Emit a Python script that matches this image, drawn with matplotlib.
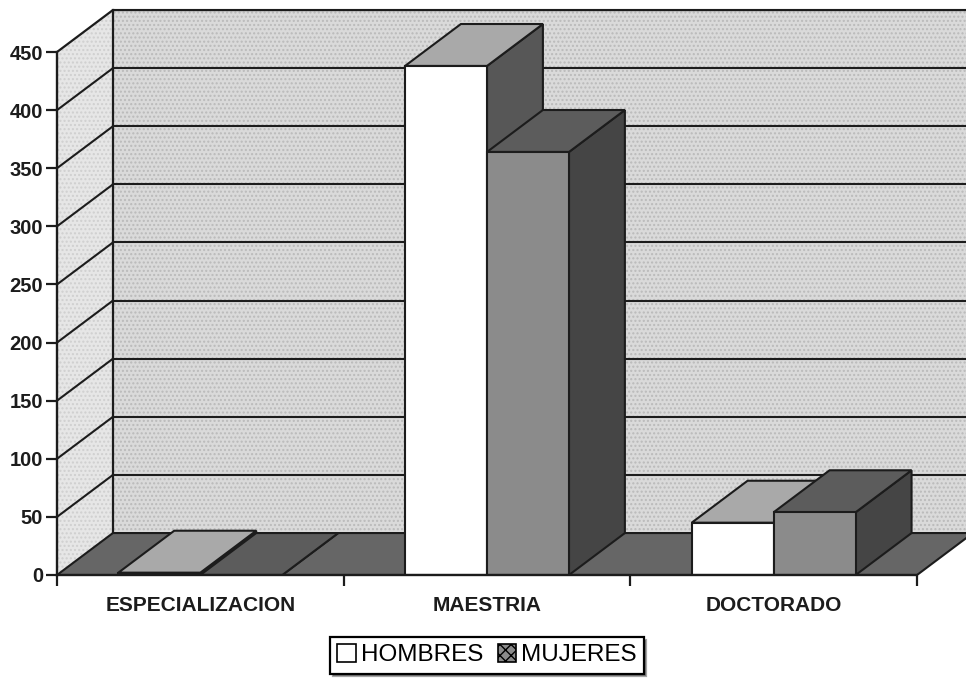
import numpy as np
import matplotlib.pyplot as plt
from matplotlib.patches import Polygon, Patch

plt.rcParams['font.family'] = ['Liberation Sans', 'DejaVu Sans']

# ==========================================
# Data
# ==========================================

categorias = ["ESPECIALIZACION", "MAESTRIA", "DOCTORADO"]
hombres = [2, 438, 45]
mujeres = [0, 364, 54]
series = ["HOMBRES", "MUJERES"]
y_ticks = [0, 50, 100, 150, 200, 250, 300, 350, 400, 450]

# ==========================================
# Pseudo 3D settings
# ==========================================

ymax = 450
bar_w = 0.286          # width of one bar (category units)
ddx = 0.195            # depth offset along x
ddy = 36.1             # depth offset along y

# face colours: (front, top, side)
col_h = ("#ffffff", "#a9a9a9", "#575757")
col_m = ("#8b8b8b", "#5c5c5c", "#454545")
wall_back = "#dadada"
wall_left = "#e6e6e6"
floor_col = "#666666"
ink = "#1c1c1c"

fig = plt.figure(figsize=(9.66, 6.79), dpi=100)
ax = fig.add_axes([57 / 966, 104 / 679, 909 / 966, 575 / 679])
ax.set_xlim(-0.5, -0.5 + 909 / 286.67)
ax.set_ylim(0, 575 / 1.1622)
ax.patch.set_visible(False)

x0, x1 = -0.5, len(categorias) - 0.5
xr = ax.get_xlim()[1] + 0.2

# walls (flat fill + dotted texture)
back_pts = [(x0 + ddx, ddy), (xr, ddy), (xr, ymax + ddy), (x0 + ddx, ymax + ddy)]
left_pts = [(x0, 0), (x0 + ddx, ddy), (x0 + ddx, ymax + ddy), (x0, ymax)]
ax.add_patch(Polygon(back_pts, closed=True, facecolor=wall_back, lw=0, zorder=0))
ax.add_patch(Polygon(back_pts, closed=True, facecolor="none", edgecolor="#bababa",
                     lw=0, hatch="....", zorder=0.1))
ax.add_patch(Polygon(left_pts, closed=True, facecolor=wall_left, lw=0, zorder=0.2))
ax.add_patch(Polygon(left_pts, closed=True, facecolor="none", edgecolor="#cfcfcf",
                     lw=0, hatch="....", zorder=0.25))

# wall outlines
ax.plot([x0, x0 + ddx, xr], [ymax, ymax + ddy, ymax + ddy], color=ink, lw=1.6, zorder=0.5)
ax.plot([x0 + ddx, x0 + ddx], [ddy, ymax + ddy], color=ink, lw=1.6, zorder=0.5)

# gridlines on both walls
for v in y_ticks[1:-1]:
    ax.plot([x0 + ddx, xr], [v + ddy, v + ddy], color=ink, lw=1.5, zorder=0.5)
    ax.plot([x0, x0 + ddx], [v, v + ddy], color=ink, lw=1.5, zorder=0.5)

# floor
floor = Polygon([(x0, 0), (x1, 0), (x1 + ddx, ddy), (x0 + ddx, ddy)],
                closed=True, facecolor=floor_col, edgecolor=ink, lw=1.5, zorder=1)
ax.add_patch(floor)


def bar3d(xs, vals, cols, z):
    bars = ax.bar(xs, vals, width=bar_w, align="edge", color=cols[0],
                  edgecolor=ink, lw=1.5, zorder=z)
    for b in bars:
        xa, w, h = b.get_x(), b.get_width(), b.get_height()
        top = [(xa, h), (xa + w, h), (xa + w + ddx, h + ddy), (xa + ddx, h + ddy)]
        side = [(xa + w, 0), (xa + w + ddx, ddy), (xa + w + ddx, h + ddy), (xa + w, h)]
        ax.add_patch(Polygon(side, closed=True, facecolor=cols[2],
                             edgecolor=ink, lw=1.5, zorder=z - 0.1))
        ax.add_patch(Polygon(top, closed=True, facecolor=cols[1],
                             edgecolor=ink, lw=1.5, zorder=z - 0.1))


centers = np.arange(len(categorias))
for i in range(len(categorias)):
    bar3d([centers[i] - bar_w], [hombres[i]], col_h, 2 + 2 * i)
    bar3d([centers[i]], [mujeres[i]], col_m, 3 + 2 * i)

# ==========================================
# Axes
# ==========================================

for s in ["top", "right"]:
    ax.spines[s].set_visible(False)
ax.spines["left"].set_bounds(0, ymax)
ax.spines["bottom"].set_bounds(x0, x1)
for s in ["left", "bottom"]:
    ax.spines[s].set_linewidth(1.7)
    ax.spines[s].set_color(ink)
    ax.spines[s].set_zorder(20)

ax.set_yticks(y_ticks)
ax.set_yticklabels([str(v) for v in y_ticks], fontsize=14.5, fontweight="bold")
ax.tick_params(axis="y", length=8, width=1.6, pad=2, colors=ink)

ax.set_xticks(np.arange(x0, x1 + 0.01, 1.0))
ax.set_xticklabels([])
ax.set_xticks(centers, minor=True)
ax.set_xticklabels(categorias, minor=True, fontsize=15, fontweight="bold")
ax.tick_params(axis="x", which="major", length=8, width=1.6, colors=ink)
ax.tick_params(axis="x", which="minor", length=0, pad=15, colors=ink)

# ==========================================
# Legend
# ==========================================

handles = [Patch(facecolor=col_h[0], edgecolor="black", lw=1.2),
           Patch(facecolor=col_m[0], edgecolor="black", lw=1.2, hatch="xxx")]
leg = fig.legend(handles, series, loc="center", bbox_to_anchor=(0.504, 0.035),
                 ncol=2, fontsize=17.5, frameon=True, fancybox=False, shadow=True,
                 handlelength=0.75, handleheight=0.75, handletextpad=0.2,
                 columnspacing=0.6, borderpad=0.3, borderaxespad=0)
leg.get_frame().set_edgecolor("black")
leg.get_frame().set_linewidth(1.6)

fig.savefig("out.png", dpi=100)
